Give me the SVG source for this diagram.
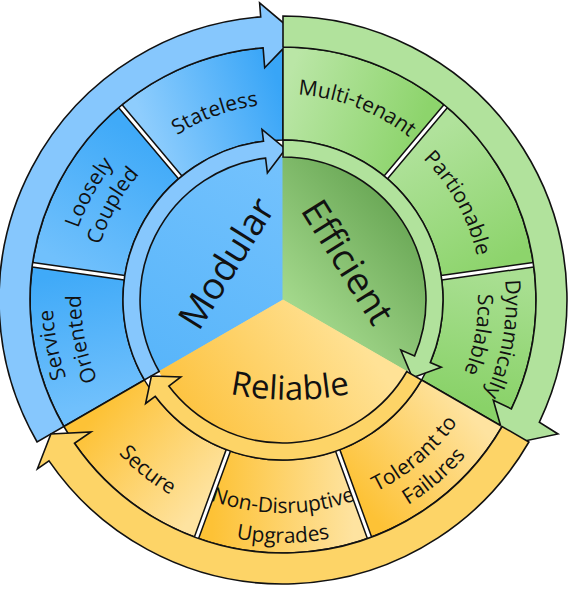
<svg xmlns="http://www.w3.org/2000/svg" xmlns:xlink="http://www.w3.org/1999/xlink" width="571" height="591" viewBox="0 0 571 591">
<style>
.seg{stroke:#111;stroke-width:1.5;stroke-linejoin:round}
.arr{stroke:#111;stroke-width:1.6;stroke-linejoin:miter}
.sepb{stroke:#111;stroke-width:6}
.sepw{stroke:#fff;stroke-width:3}
.lbl{font-family:"Open Sans","Liberation Sans",sans-serif;font-size:21px;fill:#111;text-anchor:middle}
.big{font-family:"Open Sans","Liberation Sans",sans-serif;fill:#111;text-anchor:middle}
.bo{fill:#86c7fd}.go{fill:#b1e29c}.oo{fill:#fdd467}
</style>
<defs>
<linearGradient id="gSO" gradientUnits="userSpaceOnUse" x1="104.6" y1="403" x2="79" y2="271.3"><stop offset="0" stop-color="#70c0fc"/><stop offset="1" stop-color="#40aaf8"/></linearGradient>
<linearGradient id="gLC" gradientUnits="userSpaceOnUse" x1="79" y1="271.3" x2="150.6" y2="142.2"><stop offset="0" stop-color="#70c0fc"/><stop offset="1" stop-color="#40aaf8"/></linearGradient>
<linearGradient id="gST" gradientUnits="userSpaceOnUse" x1="150.6" y1="142.2" x2="283" y2="94"><stop offset="0" stop-color="#8ecdfd"/><stop offset="1" stop-color="#38a5f7"/></linearGradient>
<linearGradient id="gMT" gradientUnits="userSpaceOnUse" x1="283" y1="94" x2="415.4" y2="142.2"><stop offset="0" stop-color="#bae6a6"/><stop offset="1" stop-color="#8dd46c"/></linearGradient>
<linearGradient id="gPA" gradientUnits="userSpaceOnUse" x1="415.4" y1="142.2" x2="487" y2="271.3"><stop offset="0" stop-color="#b0e29b"/><stop offset="1" stop-color="#8dd46c"/></linearGradient>
<linearGradient id="gDS" gradientUnits="userSpaceOnUse" x1="487" y1="271.3" x2="461.4" y2="403"><stop offset="0" stop-color="#a9df92"/><stop offset="1" stop-color="#89d268"/></linearGradient>
<linearGradient id="gTF" gradientUnits="userSpaceOnUse" x1="461.4" y1="403" x2="353.5" y2="493.6"><stop offset="0" stop-color="#fee3a0"/><stop offset="1" stop-color="#fdc236"/></linearGradient>
<linearGradient id="gND" gradientUnits="userSpaceOnUse" x1="353.5" y1="493.6" x2="212.5" y2="493.6"><stop offset="0" stop-color="#fee3a0"/><stop offset="1" stop-color="#fdc236"/></linearGradient>
<linearGradient id="gSE" gradientUnits="userSpaceOnUse" x1="212.5" y1="493.6" x2="104.6" y2="403"><stop offset="0" stop-color="#fee3a0"/><stop offset="1" stop-color="#fdc236"/></linearGradient>
<linearGradient id="dB" gradientUnits="userSpaceOnUse" x1="283" y1="160" x2="160" y2="370"><stop offset="0" stop-color="#74c2fd"/><stop offset="1" stop-color="#58b5fa"/></linearGradient>
<linearGradient id="dG" gradientUnits="userSpaceOnUse" x1="290" y1="330" x2="415" y2="215"><stop offset="0" stop-color="#aade92"/><stop offset="1" stop-color="#68a654"/></linearGradient>
<linearGradient id="dO" gradientUnits="userSpaceOnUse" x1="340" y1="310" x2="180" y2="420"><stop offset="0" stop-color="#ffe296"/><stop offset="1" stop-color="#fdc23d"/></linearGradient>
<clipPath id="clipB"><rect x="-20" y="-20" width="303" height="700"/></clipPath>
<clipPath id="clipG"><polygon points="-323.2,-50 889.2,650 889.2,-400 -323.2,-400"/></clipPath>
<path id="u196" d="M113.3,202 A196,196 0 0 1 452.7,202"/>
<path id="u206" d="M104.6,197 A206,206 0 0 1 461.4,197"/>
<path id="u199" d="M110.7,200.5 A199,199 0 0 1 455.3,200.5"/>
<path id="u217" d="M95.1,191.5 A217,217 0 0 1 470.9,191.5"/>
<path id="u191" d="M117.6,204.5 A191,191 0 0 1 448.4,204.5"/>
<path id="u230" d="M83.8,185 A230,230 0 0 1 482.2,185"/>
<path id="u202" d="M108.1,199 A202,202 0 0 1 457.9,199"/>
<path id="u223" d="M89.9,188.5 A223,223 0 0 1 476.1,188.5"/>
<path id="u195" d="M114.1,202.5 A195,195 0 0 1 451.9,202.5"/>
<path id="l213" d="M98.5,406.5 A213,213 0 0 0 467.5,406.5"/>
<path id="l240" d="M75.2,420 A240,240 0 0 0 490.8,420"/>
<path id="l243" d="M72.6,421.5 A243,243 0 0 0 493.4,421.5"/>
<path id="l225" d="M88.1,412.5 A225,225 0 0 0 477.9,412.5"/>
<path id="rel" d="M200,386 A300,300 0 0 0 380,386"/>
</defs>

<g id="core">
<g id="modular">
<path d="M283,300 L159.2,371.5 A143,143 0 0 1 283,157 Z" fill="url(#dB)" stroke="url(#dB)" stroke-width="1"/>
<text class="big" font-size="37" x="226" y="263" dy="0.36em" transform="rotate(-58 226 263)">Modular</text>
</g>
<g id="efficient">
<path d="M283,300 L283,157 A143,143 0 0 1 406.8,371.5 Z" fill="url(#dG)" stroke="url(#dG)" stroke-width="1"/>
<text class="big" font-size="37" x="348" y="262" dy="0.36em" transform="rotate(58 348 262)">Efficient</text>
</g>
<g id="reliable">
<path d="M283,300 L406.8,371.5 A143,143 0 0 1 159.2,371.5 Z" fill="url(#dO)" stroke="url(#dO)" stroke-width="1"/>
<text class="big" font-size="33"><textPath xlink:href="#rel" href="#rel" startOffset="50%">Reliable</textPath></text>
</g>
</g>

<g id="segments">
<g id="service-oriented">
<path class="seg" fill="url(#gSO)" d="M63.9,426.5 A253,253 0 0 1 32.5,264.8 L124.6,277.7 A160,160 0 0 0 144.4,380 Z"/>
<g transform="rotate(-101 283 300)"><text class="lbl"><textPath xlink:href="#u230" href="#u230" startOffset="50%">Service</textPath></text><text class="lbl"><textPath xlink:href="#u202" href="#u202" startOffset="50%">Oriented</textPath></text></g>
</g>
<g id="loosely-coupled">
<path class="seg" fill="url(#gLC)" d="M32.5,264.8 A253,253 0 0 1 120.4,106.2 L180.2,177.4 A160,160 0 0 0 124.6,277.7 Z"/>
<g transform="rotate(-61 283 300)"><text class="lbl"><textPath xlink:href="#u217" href="#u217" startOffset="50%">Loosely</textPath></text><text class="lbl"><textPath xlink:href="#u191" href="#u191" startOffset="50%">Coupled</textPath></text></g>
</g>
<g id="stateless">
<path class="seg" fill="url(#gST)" d="M120.4,106.2 A253,253 0 0 1 283,47 L283,140 A160,160 0 0 0 180.2,177.4 Z"/>
<g transform="rotate(-20 283 300)"><text class="lbl"><textPath xlink:href="#u196" href="#u196" startOffset="50%">Stateless</textPath></text></g>
</g>
<g id="multi-tenant">
<path class="seg" fill="url(#gMT)" d="M283,47 A253,253 0 0 1 445.6,106.2 L385.8,177.4 A160,160 0 0 0 283,140 Z"/>
<g transform="rotate(21 283 300)"><text class="lbl"><textPath xlink:href="#u206" href="#u206" startOffset="50%">Multi-tenant</textPath></text></g>
</g>
<g id="partionable">
<path class="seg" fill="url(#gPA)" d="M445.6,106.2 A253,253 0 0 1 533.5,264.8 L441.4,277.7 A160,160 0 0 0 385.8,177.4 Z"/>
<g transform="rotate(61 283 300)"><text class="lbl"><textPath xlink:href="#u199" href="#u199" startOffset="50%">Partionable</textPath></text></g>
</g>
<g id="dynamically-scalable">
<path class="seg" fill="url(#gDS)" d="M533.5,264.8 A253,253 0 0 1 502.1,426.5 L421.6,380 A160,160 0 0 0 441.4,277.7 Z"/>
<g transform="rotate(100 283 300)"><text class="lbl"><textPath xlink:href="#u223" href="#u223" startOffset="50%">Dynamically</textPath></text><text class="lbl"><textPath xlink:href="#u195" href="#u195" startOffset="50%">Scalable</textPath></text></g>
</g>
<g id="tolerant-to-failures">
<path class="seg" fill="url(#gTF)" d="M502.1,426.5 A253,253 0 0 1 369.5,537.7 L337.7,450.4 A160,160 0 0 0 421.6,380 Z"/>
<g transform="rotate(-40.5 283 300)"><text class="lbl"><textPath xlink:href="#l213" href="#l213" startOffset="50%">Tolerant to</textPath></text><text class="lbl"><textPath xlink:href="#l240" href="#l240" startOffset="50%">Failures</textPath></text></g>
</g>
<g id="non-disruptive-upgrades">
<path class="seg" fill="url(#gND)" d="M369.5,537.7 A253,253 0 0 1 196.5,537.7 L228.3,450.4 A160,160 0 0 0 337.7,450.4 Z"/>
<text class="lbl"><textPath xlink:href="#l213" href="#l213" startOffset="50%">Non-Disruptive</textPath></text>
<text class="lbl"><textPath xlink:href="#l243" href="#l243" startOffset="50%">Upgrades</textPath></text>
</g>
<g id="secure">
<path class="seg" fill="url(#gSE)" d="M196.5,537.7 A253,253 0 0 1 63.9,426.5 L144.4,380 A160,160 0 0 0 228.3,450.4 Z"/>
<g transform="rotate(38.5 283 300)"><text class="lbl"><textPath xlink:href="#l225" href="#l225" startOffset="50%">Secure</textPath></text></g>
</g>
<g id="separators">
<path class="sepb" d="M124.6,277.7 L32.5,264.8 M180.2,177.4 L120.4,106.2 M385.8,177.4 L445.6,106.2 M441.4,277.7 L533.5,264.8 M337.7,450.4 L369.5,537.7 M228.3,450.4 L196.5,537.7"/>
<path class="sepw" d="M124.6,277.7 L32.5,264.8 M180.2,177.4 L120.4,106.2 M385.8,177.4 L445.6,106.2 M441.4,277.7 L533.5,264.8 M337.7,450.4 L369.5,537.7 M228.3,450.4 L196.5,537.7"/>
</g>
</g>

<g id="connectors">
<path id="blue-outer" class="arr bo" clip-path="url(#clipB)" d="M37.1,442 A284,284 0 0 1 260.7,16.9 L259.6,2.9 L296.9,34.4 L264.7,67.7 L263.1,47.8 A253,253 0 0 0 63.9,426.5 Z"/>
<path id="blue-inner" class="arr bo" clip-path="url(#clipB)" d="M144.4,380 A160,160 0 0 1 263.5,141.2 L262,129.3 L285.6,149 L267.4,173 L265.6,158.1 A143,143 0 0 0 159.2,371.5 Z"/>
<path id="green-outer" class="arr go" clip-path="url(#clipG)" d="M283,16 A284,284 0 0 1 539.3,422.3 L558,434 L506.1,444.9 L493.3,400.3 L511.4,408.9 A253,253 0 0 0 283,47 Z"/>
<path id="green-inner" class="arr go" clip-path="url(#clipG)" d="M283,140 A160,160 0 0 1 430.3,362.5 L441.3,367.2 L412.4,377.8 L400.8,350 L414.6,355.9 A143,143 0 0 0 283,157 Z"/>
<path id="orange-outer" class="arr oo" d="M528.9,442 A284,284 0 0 1 49,460.9 L37.4,468.8 L50.9,434 L91,432 L74.5,443.3 A253,253 0 0 0 502.1,426.5 Z"/>
<path id="orange-inner" class="arr oo" d="M421.6,380 A160,160 0 0 1 155.2,396.3 L145.6,403.5 L151.4,376 L180.8,377 L168.8,386.1 A143,143 0 0 0 406.8,371.5 Z"/>
</g>
</svg>
